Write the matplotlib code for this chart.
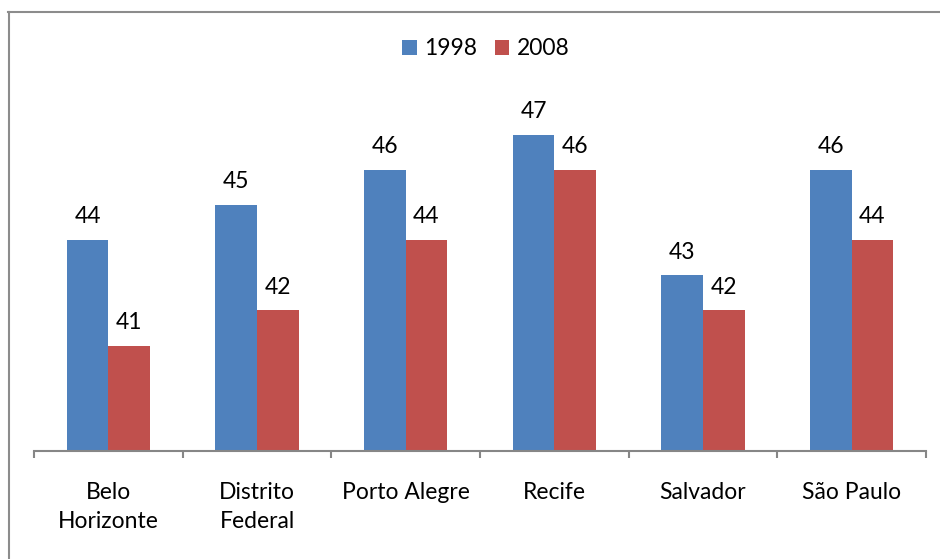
import matplotlib.pyplot as plt
from matplotlib.lines import Line2D
import numpy as np

cidades = ["Belo\nHorizonte", "Distrito\nFederal", "Porto Alegre", "Recife", "Salvador", "São Paulo"]
anos = ["1998", "2008"]
v1998 = [44, 45, 46, 47, 43, 46]
v2008 = [41, 42, 44, 46, 42, 44]

plt.rcParams['font.family'] = ['Lato', 'DejaVu Sans']
fs = 16.5

fig = plt.figure(figsize=(9.4, 5.59), dpi=100)
ax = fig.add_axes([34/940, 108/559, 892/940, 422/559])

x = np.arange(len(cidades))
w = 0.28
b1 = ax.bar(x - w/2, v1998, w, bottom=0, color="#4F81BD", label=anos[0])
b2 = ax.bar(x + w/2, v2008, w, bottom=0, color="#C0504D", label=anos[1])

for barras, vals in ((b1, v1998), (b2, v2008)):
    for r, v in zip(barras, vals):
        ax.annotate(str(v), (r.get_x() + r.get_width()/2, v), xytext=(0, 12),
                    textcoords="offset points", ha="center", va="baseline",
                    fontsize=fs, color="black")

ax.set_xlim(-0.5, len(cidades) - 0.5)
ax.set_ylim(38, 50)
ax.set_yticks([])
for s in ("top", "right", "left"):
    ax.spines[s].set_visible(False)
ax.spines["bottom"].set_color("#868686")
ax.spines["bottom"].set_linewidth(1.5)

ax.set_xticks(x)
ax.set_xticklabels(cidades, fontsize=fs, linespacing=1.5)
ax.tick_params(axis="x", which="major", length=0, pad=22)
ax.set_xticks(np.arange(len(cidades) + 1) - 0.5, minor=True)
ax.tick_params(axis="x", which="minor", length=5, width=1.5, color="#868686")

ax.legend(loc="center", bbox_to_anchor=(486/940, 1 - 49/559), bbox_transform=fig.transFigure,
          ncol=2, frameon=False, fontsize=fs, handlelength=0.62, handleheight=0.62,
          handletextpad=0.35, columnspacing=0.75)

# moldura (só topo e esquerda visíveis)
fig.add_artist(Line2D([8/940, 1], [1 - 11.5/559] * 2, transform=fig.transFigure,
                      color="#8c8c8c", lw=1.5))
fig.add_artist(Line2D([9/940] * 2, [0, 1 - 11.5/559], transform=fig.transFigure,
                      color="#8c8c8c", lw=1.5))

fig.savefig("out.png", dpi=100)
